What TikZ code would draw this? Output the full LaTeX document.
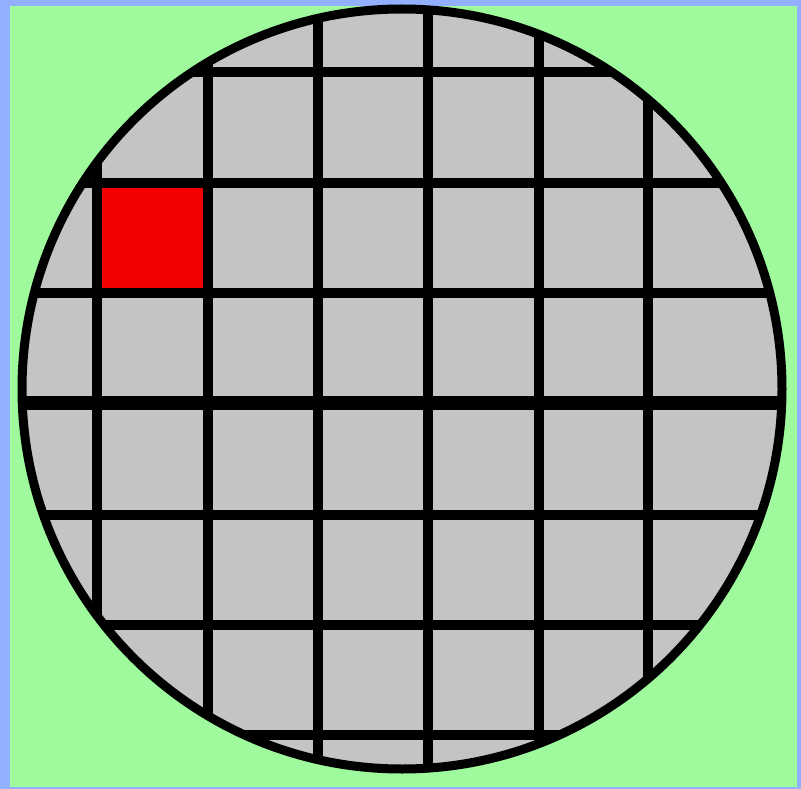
\documentclass[tikz,border=0pt]{standalone}
\definecolor{frameblue}{RGB}{146,176,255}
\definecolor{bggreen}{RGB}{158,250,156}
\definecolor{wafergray}{RGB}{196,196,198}
\definecolor{dievred}{RGB}{245,0,0}
\tikzset{
  gridline/.style={black, line width=9.5pt},
  thickgrid/.style={black, line width=14pt},
  rim/.style={black, line width=9pt},
}
\begin{document}
\begin{tikzpicture}[x=1pt,y=-1pt]
\useasboundingbox (0,0) rectangle (801,789);
% frame and background
\fill[frameblue] (0,0) rectangle (801,789);
\fill[bggreen] (10,6) rectangle (797,787);
% wafer
\coordinate (c) at (402,389);
\fill[wafergray] (c) circle[radius=380];
% red die
\fill[dievred] (97,183) rectangle (208,293);
% grid
\begin{scope}
  \clip (c) circle[radius=380];
  \foreach \x in {97,208,318,428,539,648}
    \draw[gridline] (\x,0) -- (\x,789);
  \foreach \y in {72,183,293,515,625,735}
    \draw[gridline] (0,\y) -- (801,\y);
  \draw[thickgrid] (0,403) -- (801,403);
\end{scope}
% rim
\draw[rim] (c) circle[radius=380];
\end{tikzpicture}
\end{document}
